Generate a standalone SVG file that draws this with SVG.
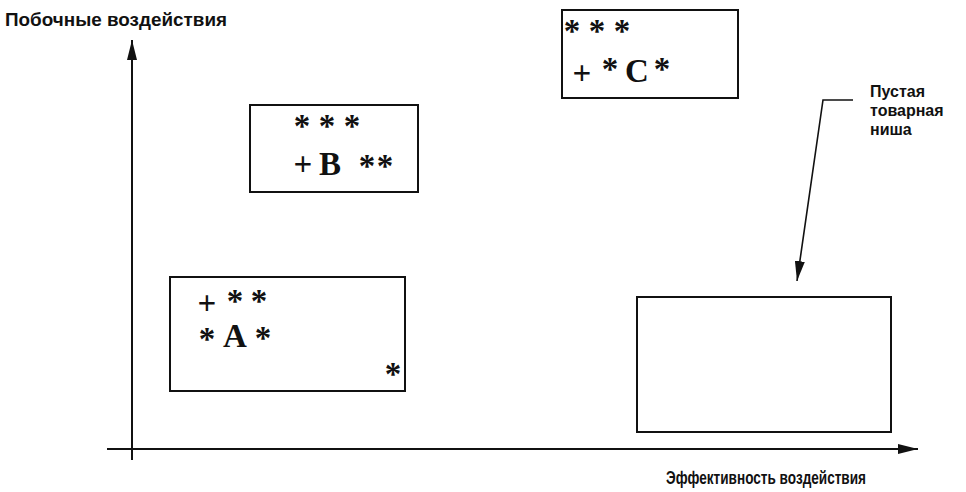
<svg xmlns="http://www.w3.org/2000/svg" width="966" height="492" viewBox="0 0 966 492">
  <style>
    .box { fill: #ffffff; stroke: #111111; stroke-width: 2; }
    .axis { fill: none; stroke: #111111; stroke-width: 2; }
    .lead { fill: none; stroke: #111111; stroke-width: 1.6; }
    .lbl { font-family: "Liberation Sans", Arial, sans-serif; font-weight: bold; font-size: 17.5px; fill: #111111; }
    .note { font-family: "Liberation Sans", Arial, sans-serif; font-weight: bold; font-size: 16px; fill: #111111; }
    .st { font-family: "Liberation Serif", "Times New Roman", serif; font-weight: bold; font-size: 33px; fill: #111111; text-anchor: middle; }
    .big { font-family: "Liberation Serif", "Times New Roman", serif; font-weight: bold; font-size: 33px; fill: #111111; text-anchor: middle; }
  </style>
  <defs>
    <marker id="arrow" viewBox="0 0 20 10" refX="20" refY="5" markerWidth="20" markerHeight="10" markerUnits="userSpaceOnUse" orient="auto">
      <path d="M0,0 L20,5 L0,10 Z" fill="#111111"/>
    </marker>
  </defs>

  <rect width="966" height="492" fill="#ffffff"/>

  <!-- axes and leader -->
  <g id="connectors">
    <line class="axis" x1="132" y1="460" x2="132" y2="40" marker-end="url(#arrow)"/>
    <line class="axis" x1="107" y1="449" x2="918" y2="449" marker-end="url(#arrow)"/>
    <polyline class="lead" points="853,100 823,100 797,281" marker-end="url(#arrow)"/>
  </g>

  <g id="axis-labels">
    <text class="lbl" x="5" y="26" textLength="222" lengthAdjust="spacingAndGlyphs">Побочные воздействия</text>
    <text class="lbl" x="666" y="484" textLength="200" lengthAdjust="spacingAndGlyphs">Эффективность воздействия</text>
  </g>

  <!-- product A -->
  <g id="node-a">
    <rect class="box" x="170" y="277" width="235" height="114"/>
    <text class="st" x="207" y="314">+</text>
    <text class="st" x="235" y="312">*</text>
    <text class="st" x="259" y="312">*</text>
    <text class="st" x="207" y="350">*</text>
    <text class="big" x="235" y="347">A</text>
    <text class="st" x="263" y="349">*</text>
    <text class="st" x="393" y="385">*</text>
  </g>

  <!-- product B -->
  <g id="node-b">
    <rect class="box" x="250" y="105" width="168" height="87"/>
    <text class="st" x="302" y="137">*</text>
    <text class="st" x="327" y="137">*</text>
    <text class="st" x="352" y="137">*</text>
    <text class="st" x="303" y="175">+</text>
    <text class="big" x="330" y="175">B</text>
    <text class="st" x="367" y="177">*</text>
    <text class="st" x="385" y="177">*</text>
  </g>

  <!-- product C -->
  <g id="node-c">
    <rect class="box" x="562" y="10" width="176" height="88"/>
    <text class="st" x="572" y="42">*</text>
    <text class="st" x="597" y="42">*</text>
    <text class="st" x="622" y="42">*</text>
    <text class="st" x="582" y="84">+</text>
    <text class="st" x="610" y="80">*</text>
    <text class="big" x="637" y="82">C</text>
    <text class="st" x="662" y="80">*</text>
  </g>

  <!-- empty niche -->
  <g id="node-empty">
    <rect class="box" x="637" y="297" width="254" height="135"/>
  </g>

  <g id="niche-label">
    <text class="note" x="870" y="97">Пустая</text>
    <text class="note" x="870" y="116">товарная</text>
    <text class="note" x="870" y="135">ниша</text>
  </g>
</svg>
